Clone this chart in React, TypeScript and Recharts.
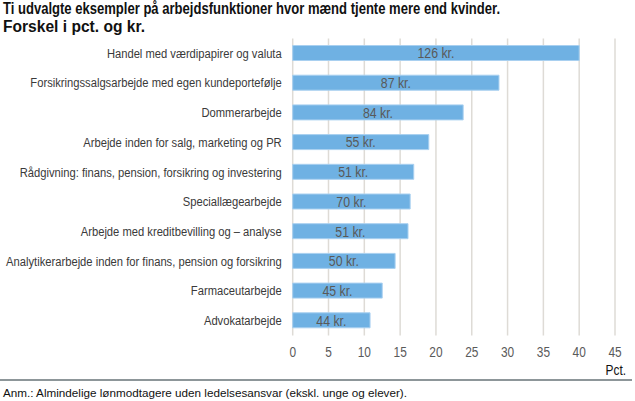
import { BarChart, Bar, XAxis, YAxis, CartesianGrid, LabelList } from "recharts";

const categories = [
  "Handel med værdipapirer og valuta",
  "Forsikringssalgsarbejde med egen kundeportefølje",
  "Dommerarbejde",
  "Arbejde inden for salg, marketing og PR",
  "Rådgivning: finans, pension, forsikring og investering",
  "Speciallægearbejde",
  "Arbejde med kreditbevilling og – analyse",
  "Analytikerarbejde inden for finans, pension og forsikring",
  "Farmaceutarbejde",
  "Advokatarbejde",
];
const pct = [40, 28.8, 23.8, 19, 16.9, 16.4, 16.1, 14.3, 12.5, 10.8];
const kr = [126, 87, 84, 55, 51, 70, 51, 50, 45, 44];
const xTicks = [0, 5, 10, 15, 20, 25, 30, 35, 40, 45];

const data = categories.map((name, i) => ({ name, pct: pct[i], kr: kr[i] }));

const sans = "'Liberation Sans', Arial, Helvetica, sans-serif";

// narrow look: squeeze Liberation Sans horizontally
function NameTick(props: any) {
  const { x, y, payload } = props;
  return (
    <text
      transform={`translate(${x},${y}) scale(0.83,1)`}
      textAnchor="end"
      dominantBaseline="central"
      fontSize={13.5}
      fontFamily={sans}
      fill="#3a3a3a"
    >
      {payload.value}
    </text>
  );
}

function NumTick(props: any) {
  const { x, y, payload } = props;
  return (
    <text
      transform={`translate(${x},${y}) scale(0.85,1)`}
      textAnchor="middle"
      dominantBaseline="central"
      fontSize={14}
      fontFamily={sans}
      fill="#5a5a5a"
    >
      {payload.value}
    </text>
  );
}

function KrLabel(props: any) {
  const { x, y, width, height, value } = props;
  const cx = x + width / 2;
  const cy = y + height / 2;
  return (
    <text
      transform={`translate(${cx},${cy + 0.5}) scale(0.85,1)`}
      textAnchor="middle"
      dominantBaseline="central"
      fontSize={14.5}
      fontFamily={sans}
      fill="#595959"
    >
      {`${value} kr.`}
    </text>
  );
}

export default function App() {
  return (
    <div style={{ position: "absolute", left: 0, top: 0, width: 635, height: 401, background: "#fff" }}>
      <BarChart
        width={635}
        height={401}
        data={data}
        layout="vertical"
        margin={{ top: 38.5, right: 20, bottom: 45.5, left: 0 }}
      >
        <CartesianGrid horizontal={false} stroke="#dedbd6" strokeWidth={1.5} />
        <XAxis
          type="number"
          domain={[0, 45]}
          ticks={xTicks}
          axisLine={false}
          tickLine={false}
          tickMargin={10.5}
          height={20}
          tick={<NumTick />}
          interval={0}
        />
        <YAxis
          type="category"
          dataKey="name"
          width={292.7}
          axisLine={false}
          tickLine={false}
          tickMargin={5}
          interval={0}
          tick={<NameTick />}
        />
        <Bar dataKey="pct" fill="#6fb1e3" stroke="#a9d0f0" strokeWidth={1} barSize={15} isAnimationActive={false}>
          <LabelList dataKey="kr" content={<KrLabel />} />
        </Bar>
      </BarChart>
      <svg width={635} height={401} style={{ position: "absolute", left: 0, top: 0, pointerEvents: "none" }}>
        <text x={3} y={13.5} fontFamily={sans} fontWeight="bold" fontSize={16} fill="#111" textLength={497} lengthAdjust="spacingAndGlyphs">
          Ti udvalgte eksempler på arbejdsfunktioner hvor mænd tjente mere end kvinder.
        </text>
        <text x={3} y={32} fontFamily={sans} fontWeight="bold" fontSize={16} fill="#111" textLength={142} lengthAdjust="spacingAndGlyphs">
          Forskel i pct. og kr.
        </text>
        <text transform="translate(626,370) scale(0.85,1)" textAnchor="end" dominantBaseline="central" fontFamily={sans} fontSize={14} fill="#111">
          Pct.
        </text>
        <rect x={0} y={379} width={632} height={2} fill="#8d9699" />
        <text x={3} y={397} fontFamily={sans} fontSize={11.5} fill="#111" textLength={404} lengthAdjust="spacingAndGlyphs">
          Anm.: Almindelige lønmodtagere uden ledelsesansvar (ekskl. unge og elever).
        </text>
      </svg>
    </div>
  );
}
